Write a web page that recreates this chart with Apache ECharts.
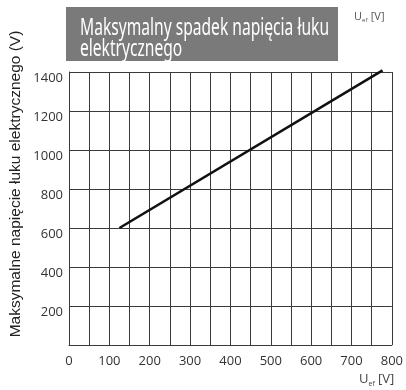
<!DOCTYPE html>
<html>
<head>
<meta charset="utf-8">
<script src="https://cdn.jsdelivr.net/npm/echarts@6/dist/echarts.min.js"></script>
<style>
  html, body { margin: 0; padding: 0; background: #fff; }
  #chart { width: 406px; height: 390px; }
</style>
</head>
<body>
<div id="chart"></div>
<script>
// Arc voltage drop characteristic
const titleLines = ['Maksymalny spadek napięcia łuku', 'elektrycznego'];
const yAxisTitle = 'Maksymalne napięcie łuku elektrycznego (V)';
const xTicks = [0, 100, 200, 300, 400, 500, 600, 700, 800];
const yTicks = [200, 400, 600, 800, 1000, 1200, 1400];
const uefValues = [125, 777];        // U_ef [V]
const arcVoltage = [600, 1408];      // max arc voltage [V]

const lineData = uefValues.map((x, i) => [x, arcVoltage[i]]);

const chart = echarts.init(document.getElementById('chart'));
const gridColor = '#3a3a3a';
const labelFont = '"Open Sans", "Noto Sans", sans-serif';

chart.setOption({
  animation: false,
  grid: { left: 69, right: 11, top: 72, bottom: 45 },
  xAxis: {
    type: 'value',
    min: xTicks[0],
    max: xTicks[xTicks.length - 1],
    interval: 100,
    axisLine: { show: true, lineStyle: { color: gridColor, width: 1 } },
    axisTick: { show: false },
    minorTick: { show: false, splitNumber: 2 },
    minorSplitLine: { show: true, lineStyle: { color: gridColor, width: 1 } },
    splitLine: { show: true, lineStyle: { color: gridColor, width: 1 } },
    axisLabel: {
      color: '#333', fontSize: 13, fontFamily: labelFont, margin: 10,
      formatter: v => xTicks.includes(v) ? String(v) : ''
    }
  },
  yAxis: {
    type: 'value',
    min: 0,
    max: yTicks[yTicks.length - 1],
    interval: 200,
    axisLine: { show: true, lineStyle: { color: gridColor, width: 1 } },
    axisTick: { show: false },
    splitLine: { show: true, lineStyle: { color: gridColor, width: 1 } },
    axisLabel: {
      color: '#333', fontSize: 13, fontFamily: labelFont, margin: 6,
      verticalAlign: 'top',
      formatter: v => yTicks.includes(v) ? String(v) : ''
    }
  },
  series: [{
    type: 'line',
    data: lineData,
    symbol: 'none',
    clip: false,
    lineStyle: { color: '#111', width: 2.6 }
  }],
  graphic: [
    {
      type: 'rect',
      shape: { x: 66, y: 7, width: 272, height: 54 },
      style: { fill: '#7a7a7a' }
    },
    {
      type: 'group',
      x: 80, y: 18,
      scaleX: 0.65,
      children: [{
        type: 'text',
        style: {
          text: titleLines.join('\n'),
          fill: '#fff',
          font: '24px "Noto Sans", sans-serif',
          lineHeight: 21
        }
      }]
    },
    {
      type: 'text',
      x: 354, y: 11,
      style: {
        text: '{u|U}{s|ef} {u|[V]}',
        rich: {
          u: { fill: '#555', fontSize: 11, fontFamily: labelFont },
          s: { fill: '#555', fontSize: 6, fontFamily: labelFont, padding: [6, 0, 0, 0] }
        }
      }
    },
    {
      type: 'text',
      x: 359, y: 372,
      style: {
        text: '{u|U}{s|ef} {u|[V]}',
        rich: {
          u: { fill: '#444', fontSize: 13, fontFamily: labelFont },
          s: { fill: '#444', fontSize: 7, fontFamily: labelFont, padding: [8, 0, 0, 0] }
        }
      }
    },
    {
      type: 'text',
      x: 16, y: 184,
      rotation: Math.PI / 2,
      style: {
        text: yAxisTitle,
        fill: '#222',
        font: '15.5px "Liberation Sans", Arial, sans-serif',
        align: 'center',
        verticalAlign: 'middle'
      }
    }
  ]
});
</script>
</body>
</html>
